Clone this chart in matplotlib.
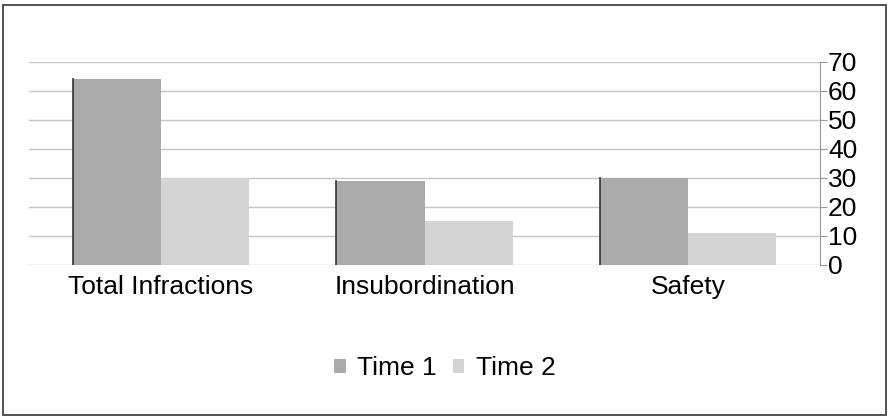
import matplotlib.pyplot as plt
import numpy as np
from matplotlib.patches import Rectangle

plt.rcParams['font.family'] = ['Liberation Sans', 'DejaVu Sans']

categories = ["Total Infractions", "Insubordination", "Safety"]
time1 = [64, 29, 30]
time2 = [30, 15, 11]
series_names = ["Time 1", "Time 2"]

fig = plt.figure(figsize=(8.9, 4.16), dpi=100)
ax = fig.add_axes([0.033, 0.363, 0.888, 0.488])

x = np.arange(len(categories))
w = 0.335
b1 = ax.bar(x - w / 2, time1, w, color="#aaaaaa", label=series_names[0], zorder=3)
b2 = ax.bar(x + w / 2, time2, w, color="#d4d4d4", label=series_names[1], zorder=3)

# dark edge on the left side of the first series
for r in b1:
    ax.plot([r.get_x(), r.get_x()], [0, r.get_height()], color="#333333", lw=1.2, zorder=4)

ax.set_xlim(-0.5, len(categories) - 0.5)
ax.set_ylim(0, 70)
ax.set_yticks(range(0, 71, 10))
ax.yaxis.tick_right()
ax.tick_params(axis="y", length=5, color="#999999", labelsize=19, pad=1)
ax.set_xticks(x)
ax.set_xticklabels(categories, fontsize=19)
ax.tick_params(axis="x", length=0, pad=7)
ax.grid(axis="y", color="#c4c4c4", lw=1, zorder=0)
for s in ["left", "top", "bottom"]:
    ax.spines[s].set_visible(False)
ax.spines["right"].set_color("#999999")

fig.legend(handles=[b1, b2], loc="center", bbox_to_anchor=(0.5, 0.115), ncol=2,
           frameon=False, fontsize=19, handlelength=0.42, handleheight=0.42,
           handletextpad=0.45, columnspacing=0.6)

# outer border
fig.patches.append(Rectangle((0.003, 0.003), 0.993, 0.984, transform=fig.transFigure,
                             fill=False, ec="#444444", lw=1.3))

fig.savefig("out.png", dpi=100)
